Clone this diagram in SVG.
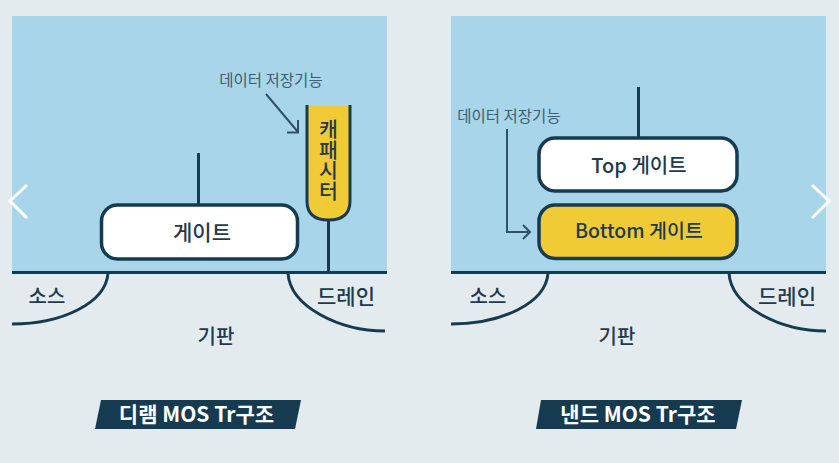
<svg xmlns="http://www.w3.org/2000/svg" width="839" height="463" viewBox="0 0 839 463">
<style>
text{font-family:"Noto Sans CJK KR","Noto Sans",sans-serif;fill:#1f3a4d;text-anchor:middle;font-weight:500}
.ln{fill:none;stroke:#163a50;stroke-width:3}
.an{fill:none;stroke:#2f5168;stroke-width:2}
.box{stroke:#163a50;stroke-width:3.5}
.lab{font-size:20px}
.sm{font-size:15.500px;fill:#3d5d72;font-weight:400}
.ttl{font-size:21px;font-weight:700;fill:#fff}
.nav{fill:none;stroke:#fff;stroke-width:3}
</style>
<rect width="839" height="463" fill="#e3ebee"/>
<rect x="12" y="16" width="375" height="256" fill="#a9d5eb"/>
<rect x="451" y="16" width="375" height="256" fill="#a9d5eb"/>
<g id="connectors">
<path class="ln" d="M12 272.500H387"/>
<path class="ln" d="M451 272.500H826"/>
<path class="ln" d="M198.500 153V205"/>
<path class="ln" d="M328.500 220V272"/>
<path class="ln" d="M638.500 87V138"/>
<path class="ln" d="M108 273C106 303 62 324 12 324"/>
<path class="ln" d="M288 273C290 307 340 331 385 331"/>
<path class="ln" d="M548 273C546 303 502 324 451 324"/>
<path class="ln" d="M729 273C731 307 781 331 826 331"/>
<path class="an" d="M266 94L298 132M298 120V132.500H287"/>
<path class="an" d="M507 129V232H530M523 225L530 232L523 239"/>
</g>
<g id="capacitor"><path d="M307 106V201Q307 220 328.500 220Q350 220 350 201V106Z" fill="#f0cb35"/><path class="ln" d="M307 105V201Q307 220 328.500 220Q350 220 350 201V105" stroke-width="3.500"/><text class="lab" x="328.500" y="160" style="writing-mode:vertical-rl;text-orientation:upright;font-size:20.500px">캐패시터</text></g>
<g id="gate"><rect class="box" x="101.500" y="205" width="196" height="54" rx="16" fill="#fff"/><text class="lab" style="font-size:21px" x="202" y="240">게이트</text></g>
<g id="top-gate"><rect class="box" x="539" y="138" width="198" height="53" rx="16" fill="#fff"/><text class="lab" x="639" y="173">Top 게이트</text></g>
<g id="bottom-gate"><rect class="box" x="539" y="205" width="198" height="53.500" rx="16" fill="#f0cb35"/><text class="lab" style="font-size:19.500px" x="639" y="238">Bottom 게이트</text></g>
<g id="labels-left">
<text class="sm" x="271" y="85.500">데이터 저장기능</text>
<text class="lab" x="47" y="304">소스</text>
<text class="lab" style="font-size:21px" x="346" y="304">드레인</text>
<text class="lab" x="216" y="344">기판</text>
</g>
<g id="labels-right">
<text class="sm" x="509" y="121.500">데이터 저장기능</text>
<text class="lab" x="488" y="304">소스</text>
<text class="lab" style="font-size:21px" x="787" y="304">드레인</text>
<text class="lab" x="617" y="344">기판</text>
</g>
<g id="title-dram"><path d="M101 400H301L295 429H95Z" fill="#163a50"/><text class="ttl" x="196.500" y="422">디램 MOS Tr구조</text></g>
<g id="title-nand"><path d="M541 400H742L736 429H536Z" fill="#163a50"/><text class="ttl" x="638" y="422">낸드 MOS Tr구조</text></g>
<g id="nav"><path class="nav" d="M27 185L10 201L27 218"/><path class="nav" d="M812 185L829 201L812 218"/></g>
</svg>
